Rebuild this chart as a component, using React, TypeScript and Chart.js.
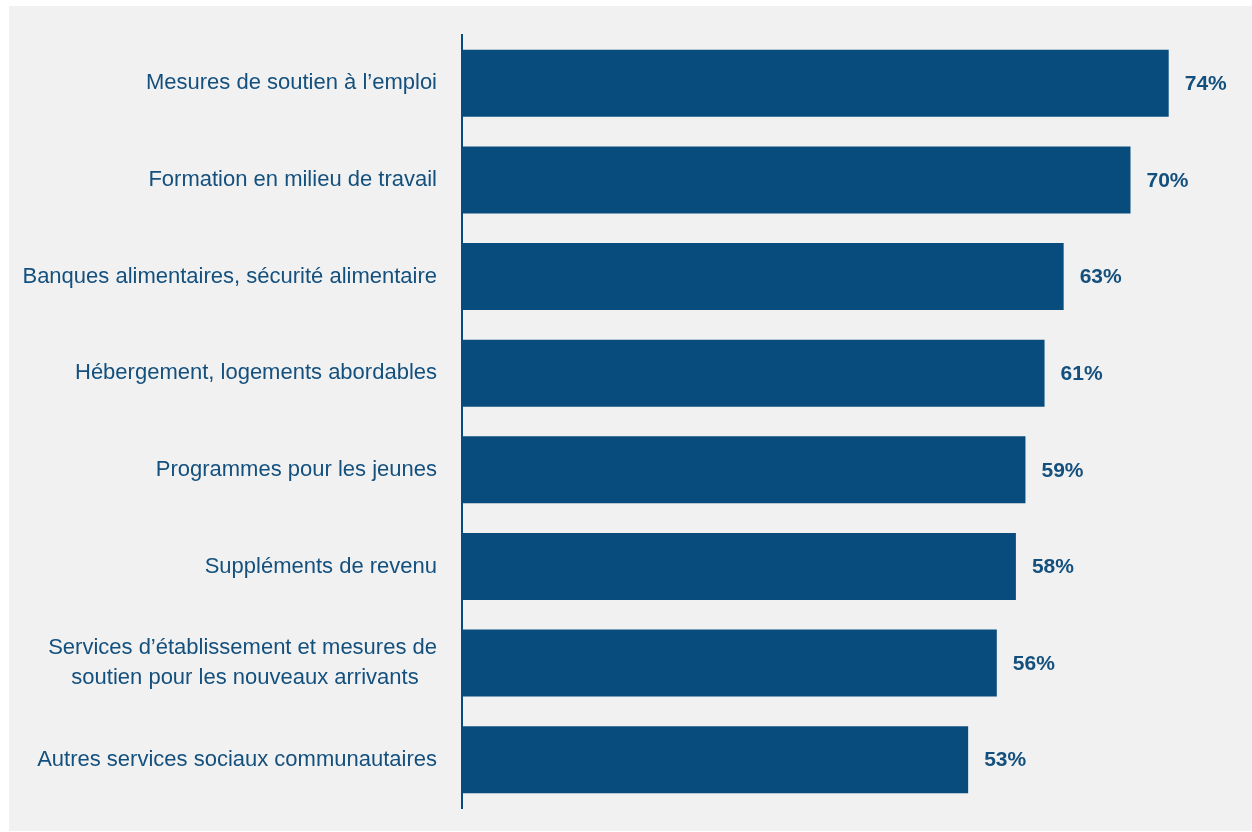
import React, { useEffect, useRef } from "react";
import { Chart, registerables } from "chart.js";

Chart.register(...registerables);

const categories: (string | string[])[] = [
  "Mesures de soutien à l’emploi",
  "Formation en milieu de travail",
  "Banques alimentaires, sécurité alimentaire",
  "Hébergement, logements abordables",
  "Programmes pour les jeunes",
  "Suppléments de revenu",
  ["Services d’établissement et mesures de", "soutien pour les nouveaux arrivants\u00a0\u00a0\u00a0"],
  "Autres services sociaux communautaires",
];
const values: number[] = [74, 70, 63, 61, 59, 58, 56, 53];
const valueLabels: string[] = ["74%", "70%", "63%", "61%", "59%", "58%", "56%", "53%"];

const BAR = "#084c7e";
const TEXT = "#14507e";
const FONT = "'Liberation Sans Narrow', 'Arial Narrow', 'Liberation Sans', Arial, sans-serif";

const valueLabelPlugin = {
  id: "valueLabels",
  afterDatasetsDraw(chart: any) {
    const ctx = chart.ctx;
    const meta = chart.getDatasetMeta(0);
    ctx.save();
    ctx.font = `bold 21px ${FONT}`;
    ctx.fillStyle = TEXT;
    ctx.textAlign = "left";
    ctx.textBaseline = "middle";
    meta.data.forEach((bar: any, i: number) => {
      ctx.fillText(valueLabels[i], bar.x + 16, bar.y + 1);
    });
    ctx.restore();
  },
};

export default function App() {
  const ref = useRef<HTMLCanvasElement | null>(null);
  useEffect(() => {
    if (!ref.current) return;
    const chart = new Chart(ref.current, {
      type: "bar",
      data: {
        labels: categories,
        datasets: [
          {
            data: values,
            backgroundColor: BAR,
            borderWidth: 0,
            barPercentage: 0.694,
            categoryPercentage: 1,
          },
        ],
      },
      options: {
        indexAxis: "y",
        animation: false,
        responsive: true,
        maintainAspectRatio: false,
        layout: { padding: { top: 29, bottom: 23, right: 26, left: 0 } },
        plugins: { legend: { display: false }, tooltip: { enabled: false } },
        scales: {
          x: { display: false, min: 0, max: 80 },
          y: {
            afterFit(scale: any) {
              scale.width = 453;
              scale.paddingTop = 0;
              scale.paddingBottom = 0;
            },
            grid: { display: false, drawTicks: false },
            border: { display: true, color: BAR, width: 2 },
            ticks: {
              padding: 25,
              color: TEXT,
              font: { family: FONT, size: 22, lineHeight: 1.36 },
            },
          },
        },
      },
      plugins: [valueLabelPlugin],
    });
    return () => chart.destroy();
  }, []);
  return (
    <div
      style={{
        position: "absolute",
        left: 9,
        top: 6,
        width: 1243,
        height: 825,
        background: "#f1f1f1",
      }}
    >
      <canvas ref={ref} />
    </div>
  );
}
